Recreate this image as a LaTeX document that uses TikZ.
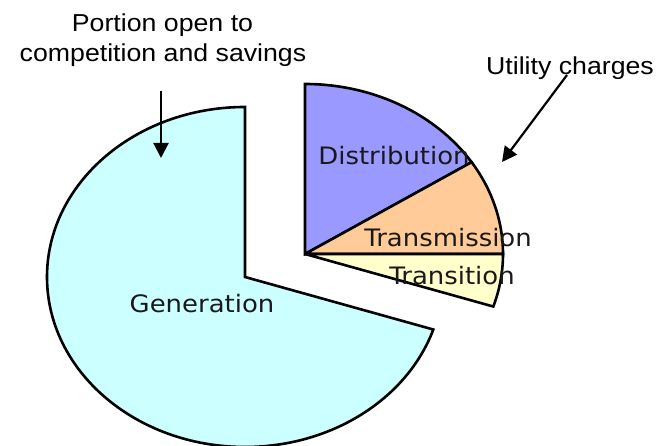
\documentclass[tikz,border=0pt]{standalone}
\usepackage{fontspec}
\usetikzlibrary{arrows.meta}
\newfontfamily\arialf[FakeStretch=1.09]{Liberation Sans}
\newfontfamily\verdf[FakeStretch=1.08]{DejaVu Sans}
\definecolor{distc}{HTML}{9999FF}
\definecolor{tmisc}{HTML}{FFCC99}
\definecolor{tranc}{HTML}{FFFFCC}
\definecolor{genc}{HTML}{CCFFFF}
\tikzset{
  slice/.style={draw=black, line width=2.6pt, line join=miter, miter limit=4},
  pielabel/.style={font=\verdf\fontsize{24}{30}\selectfont, anchor=base, inner sep=0pt, text=black!90},
  notelabel/.style={font=\arialf\fontsize{24.5}{30}\selectfont, anchor=base, inner sep=0pt, text=black},
  pointer/.style={draw=black, line width=2.2pt, -{Triangle[length=15pt,width=15pt]}}
}
\begin{document}
\begin{tikzpicture}[x=1pt,y=1pt]
\useasboundingbox (0,0) rectangle (666,446);
% Generation slice
\coordinate (gc) at (245,169);
\filldraw[slice, fill=genc] (gc) -- (245,339) arc[start angle=90, end angle=342, x radius=198, y radius=170] -- cycle;
% Right part of the pie
\coordinate (rc) at (305,192);
\filldraw[slice, fill=distc] (rc) -- (305,362) arc[start angle=90, end angle=32.7, x radius=198, y radius=170] -- cycle;
\filldraw[slice, fill=tmisc] (rc) -- (503,192) arc[start angle=0, end angle=32.7, x radius=198, y radius=170] -- cycle;
\filldraw[slice, fill=tranc] (rc) -- (503,192) arc[start angle=0, end angle=-18, x radius=198, y radius=170] -- cycle;
% Slice labels
\node[pielabel] (dist) at (394,281) {Distribution};
\node[pielabel] (tmis) at (448,199) {Transmission};
\node[pielabel] (tran) at (452,161) {Transition};
\node[pielabel] (gen) at (202,133) {Generation};
% Notes
\node[notelabel] (por1) at (162.5,414) {Portion open to};
\node[notelabel] (por2) at (163,384) {competition and savings};
\node[notelabel] (util) at (570,371) {Utility charges};
% Pointers
\coordinate (a1s) at (161,355);
\coordinate (a1e) at (161,288);
\coordinate (a2s) at (567,371);
\coordinate (a2e) at (502,284);
\draw[pointer] (a1s) -- (a1e);
\draw[pointer] (a2s) -- (a2e);
\end{tikzpicture}
\end{document}
